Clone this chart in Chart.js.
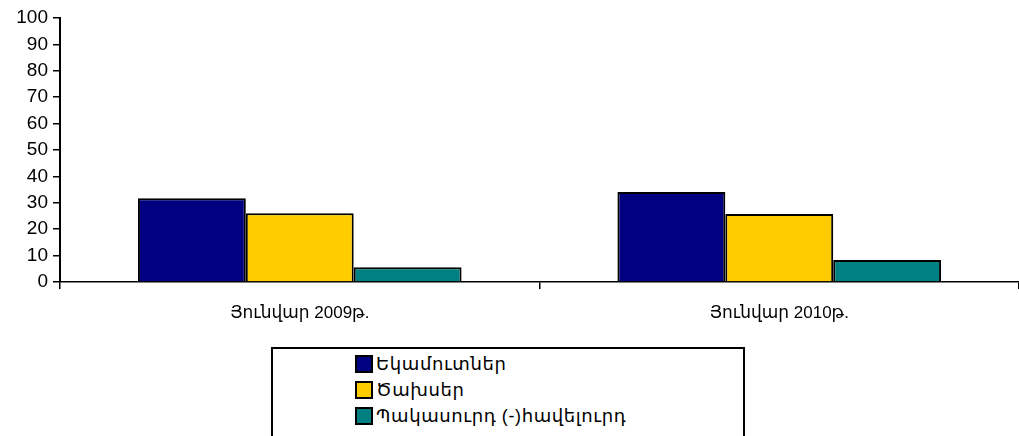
<!DOCTYPE html>
<html>
<head>
<meta charset="utf-8">
<script src="https://cdn.jsdelivr.net/npm/chart.js@4/dist/chart.umd.min.js"></script>
<style>
    body { margin: 0; background: #fff; font-family: "Liberation Sans", "DejaVu Sans", sans-serif; }
    #wrap { position: relative; width: 1019px; height: 436px; overflow: hidden; }
    #chart { position: absolute; left: 0; top: 0; }
    #legend {
        position: absolute; left: 271px; top: 347px; width: 474px; height: 120px;
        border: 2px solid #000; box-sizing: border-box; padding: 2px 0 0 82px;
    }
    .item { display: flex; align-items: center; height: 26px; font-size: 18px; letter-spacing: 0.6px; color: #000; }
    .box { width: 14px; height: 14px; border: 2px solid #000; margin-right: 3px; flex: none; }
</style>
</head>
<body>
<div id="wrap">
    <canvas id="chart" width="1019" height="330"></canvas>
    <div id="legend"></div>
</div>
<script>
    const categories = ['Յունվար 2009թ.', 'Յունվար 2010թ.'];
    const seriesNames = ['Եկամուտներ', 'Ծախսեր', 'Պակասուրդ (-)հավելուրդ'];
    const income = [31.7, 34.1];
    const expenses = [26.0, 25.8];
    const deficit = [5.6, 8.3];
    const yTicks = [0, 10, 20, 30, 40, 50, 60, 70, 80, 90, 100];

    const colors = ['#000080', '#FFCC00', '#008080'];
    const values = [income, expenses, deficit];

    // Build datasets from the arrays above
    const datasets = seriesNames.map(function(name, i) {
        return {
            label: name,
            data: values[i],
            backgroundColor: colors[i],
            borderColor: '#000',
            borderWidth: 2,
            borderSkipped: 'bottom',
            categoryPercentage: 0.675,
            barPercentage: 1.0
        };
    });

    const ctx = document.getElementById('chart').getContext('2d');
    new Chart(ctx, {
        type: 'bar',
        data: { labels: categories, datasets: datasets },
        options: {
            responsive: false,
            animation: false,
            layout: { padding: { top: 18, right: 0, bottom: 0, left: 0 } },
            plugins: { legend: { display: false }, tooltip: { enabled: false } },
            scales: {
                x: {
                    afterFit: function(scale) { scale.height = 48; },
                    grid: { drawOnChartArea: false, offset: true, tickLength: 7, color: '#000', lineWidth: 1.5 },
                    border: { color: '#000', width: 1.5 },
                    ticks: {
                        color: '#000', padding: 14,
                        font: { family: '"Liberation Sans", "DejaVu Sans", sans-serif', size: 17 }
                    }
                },
                y: {
                    min: 0, max: 100,
                    afterFit: function(scale) { scale.width = 60; },
                    afterBuildTicks: function(scale) { scale.ticks = yTicks.map(v => ({ value: v })); },
                    grid: { drawOnChartArea: false, tickLength: 7, color: '#000', lineWidth: 1.5 },
                    border: { color: '#000', width: 2 },
                    ticks: {
                        color: '#000', padding: 5,
                        font: { family: '"Liberation Sans", Arial, sans-serif', size: 19 }
                    }
                }
            }
        }
    });

    // Legend box below the chart
    const legend = document.getElementById('legend');
    seriesNames.forEach(function(name, i) {
        const row = document.createElement('div');
        row.className = 'item';
        const box = document.createElement('span');
        box.className = 'box';
        box.style.background = colors[i];
        const txt = document.createElement('span');
        txt.textContent = name;
        row.appendChild(box);
        row.appendChild(txt);
        legend.appendChild(row);
    });
</script>
</body>
</html>
